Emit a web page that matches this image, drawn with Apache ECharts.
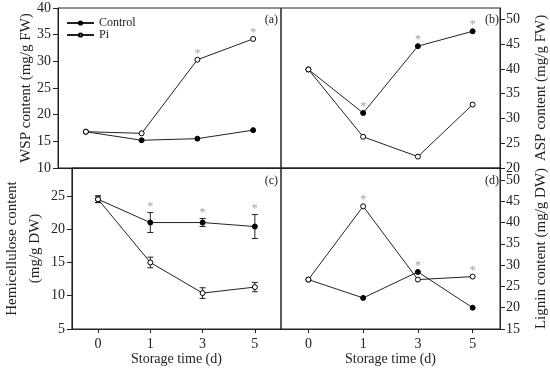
<!DOCTYPE html>
<html><head><meta charset="utf-8">
<script src="https://cdn.jsdelivr.net/npm/echarts@6/dist/echarts.min.js"></script>
<style>html,body{margin:0;padding:0;background:#fff}#c{width:550px;height:370px}</style>
</head><body><div id="c"></div>
<script>
const categories = ['0', '1', '3', '5'];
const wspControl = [16.8, 15.2, 15.5, 17.1];
const wspPi = [16.8, 16.5, 30.3, 34.2];
const aspControl = [39.9, 31.1, 44.6, 47.6];
const aspPi = [39.9, 26.3, 22.3, 32.8];
const hemiControl = [24.5, 21.0, 21.0, 20.4];
const hemiControlErr = [0.5, 1.5, 0.6, 1.8];
const hemiPi = [24.5, 15.0, 10.4, 11.3];
const hemiPiErr = [0.5, 0.8, 0.8, 0.7];
const ligninControl = [26.6, 22.3, 28.4, 20.0];
const ligninPi = [26.6, 43.8, 26.6, 27.3];
const sigA = [0, 0, 1, 1];
const sigB = [0, 1, 1, 1];
const sigC = [0, 1, 1, 1];
const sigD = [0, 1, 1, 1];
const wspTicks = [10, 15, 20, 25, 30, 35, 40];
const aspTicks = [20, 25, 30, 35, 40, 45, 50];
const hemiTicks = [5, 10, 15, 20, 25];
const ligninTicks = [15, 20, 25, 30, 35, 40, 45, 50];

const FONT = '"Liberation Serif", "Times New Roman", serif';
const INK = '#222';

function yAxis(gi, ticks, min, max, name, right, nameGap, lineHeight) {
  return {
    type: 'value', gridIndex: gi, min: min, max: max, interval: 5,
    position: right ? 'right' : 'left',
    splitLine: { show: false },
    axisLine: { show: true, lineStyle: { color: INK, width: 1 } },
    axisTick: { show: true, length: 5, lineStyle: { color: INK }, customValues: ticks },
    axisLabel: { color: INK, fontFamily: FONT, fontSize: 14, margin: right ? 6 : 7, customValues: ticks },
    name: name, nameLocation: 'middle', nameGap: nameGap, nameRotate: 90,
    nameTextStyle: { color: INK, fontFamily: FONT, fontSize: 15, lineHeight: lineHeight || 15 }
  };
}
function xAxis(gi, showIt) {
  return {
    type: 'category', gridIndex: gi, data: categories, boundaryGap: true,
    axisLine: { show: true, lineStyle: { color: INK, width: 1 } },
    axisTick: { show: showIt, alignWithLabel: true, length: 4, lineStyle: { color: INK } },
    axisLabel: { show: showIt, color: INK, fontFamily: FONT, fontSize: 14, margin: 8 },
    name: showIt ? 'Storage time (d)' : '', nameLocation: 'middle', nameGap: 22,
    nameTextStyle: { color: INK, fontFamily: FONT, fontSize: 14 }
  };
}
function lineSeries(name, gi, data, filled) {
  return {
    type: 'line', name: name, xAxisIndex: gi, yAxisIndex: gi, data: data,
    symbol: 'circle', symbolSize: 5, showSymbol: true,
    lineStyle: { color: INK, width: 1 },
    itemStyle: { color: filled ? '#000' : '#fff', borderColor: '#000', borderWidth: 1 },
    z: 3, animation: false
  };
}
function starSeries(gi, sig, c, p, ce, pe) {
  const d = categories.map((cat, i) => {
    if (!sig[i]) return null;
    const hc = c[i] + (ce ? ce[i] : 0);
    const hp = p[i] + (pe ? pe[i] : 0);
    return [i, Math.max(hc, hp)];
  }).filter(v => v);
  return {
    type: 'scatter', xAxisIndex: gi, yAxisIndex: gi, data: d, symbolSize: 0,
    label: { show: true, formatter: '*', position: 'top', distance: 0, color: '#888', fontFamily: FONT, fontSize: 12 },
    silent: true, animation: false, z: 4
  };
}
function errSeries(gi, vals, errs) {
  return {
    type: 'custom', xAxisIndex: gi, yAxisIndex: gi,
    data: vals.map((v, i) => [i, v, errs[i]]),
    renderItem: function (params, api) {
      const x = api.value(0), v = api.value(1), e = api.value(2);
      const top = api.coord([x, v + e]);
      const bot = api.coord([x, v - e]);
      const w = 3;
      const st = { stroke: INK, lineWidth: 1 };
      return { type: 'group', children: [
        { type: 'line', shape: { x1: top[0], y1: top[1], x2: bot[0], y2: bot[1] }, style: st },
        { type: 'line', shape: { x1: top[0] - w, y1: top[1], x2: top[0] + w, y2: top[1] }, style: st },
        { type: 'line', shape: { x1: bot[0] - w, y1: bot[1], x2: bot[0] + w, y2: bot[1] }, style: st }
      ]};
    },
    z: 2, animation: false, silent: true
  };
}
const gridStyle = { show: true, borderColor: INK, borderWidth: 1, containLabel: false };
const option = {
  animation: false,
  textStyle: { fontFamily: FONT },
  grid: [
    Object.assign({ left: 58, top: 8, width: 223, height: 160 }, gridStyle),
    Object.assign({ left: 281, top: 8, width: 222, height: 160 }, gridStyle),
    Object.assign({ left: 58, top: 168, width: 223, height: 161 }, gridStyle),
    Object.assign({ left: 281, top: 168, width: 222, height: 161 }, gridStyle)
  ],
  xAxis: [xAxis(0, false), xAxis(1, false), xAxis(2, true), xAxis(3, true)],
  yAxis: [
    yAxis(0, wspTicks, 10, 40, 'WSP content (mg/g FW)', false, 20),
    yAxis(1, aspTicks, 20, 52.3, 'ASP content (mg/g FW)', true, 34),
    yAxis(2, hemiTicks, 5, 29.2, 'Hemicellulose content\n(mg/g DW)', false, 16, 23),
    yAxis(3, ligninTicks, 15, 52.8, 'Lignin content (mg/g DW)', true, 34)
  ],
  legend: {
    data: ['Control', 'Pi'], orient: 'vertical', left: 61, top: 12, itemGap: 0,
    itemWidth: 27, itemHeight: 4,
    textStyle: { fontFamily: FONT, fontSize: 12, lineHeight: 11, color: INK }
  },
  graphic: [
    { type: 'text', right: 272, top: 14, style: { text: '(a)', font: '12px "Liberation Serif"', fill: INK } },
    { type: 'text', right: 51, top: 14, style: { text: '(b)', font: '12px "Liberation Serif"', fill: INK } },
    { type: 'text', right: 272, top: 175, style: { text: '(c)', font: '12px "Liberation Serif"', fill: INK } },
    { type: 'text', right: 51, top: 175, style: { text: '(d)', font: '12px "Liberation Serif"', fill: INK } }
  ],
  series: [
    lineSeries('Control', 0, wspControl, true),
    lineSeries('Pi', 0, wspPi, false),
    starSeries(0, sigA, wspControl, wspPi),
    lineSeries('Control', 1, aspControl, true),
    lineSeries('Pi', 1, aspPi, false),
    starSeries(1, sigB, aspControl, aspPi),
    errSeries(2, hemiControl, hemiControlErr),
    errSeries(2, hemiPi, hemiPiErr),
    lineSeries('Control', 2, hemiControl, true),
    lineSeries('Pi', 2, hemiPi, false),
    starSeries(2, sigC, hemiControl, hemiPi, hemiControlErr, hemiPiErr),
    lineSeries('Control', 3, ligninControl, true),
    lineSeries('Pi', 3, ligninPi, false),
    starSeries(3, sigD, ligninControl, ligninPi)
  ]
};
const chart = echarts.init(document.getElementById('c'), null, { renderer: 'canvas' });
chart.setOption(option);
</script></body></html>
